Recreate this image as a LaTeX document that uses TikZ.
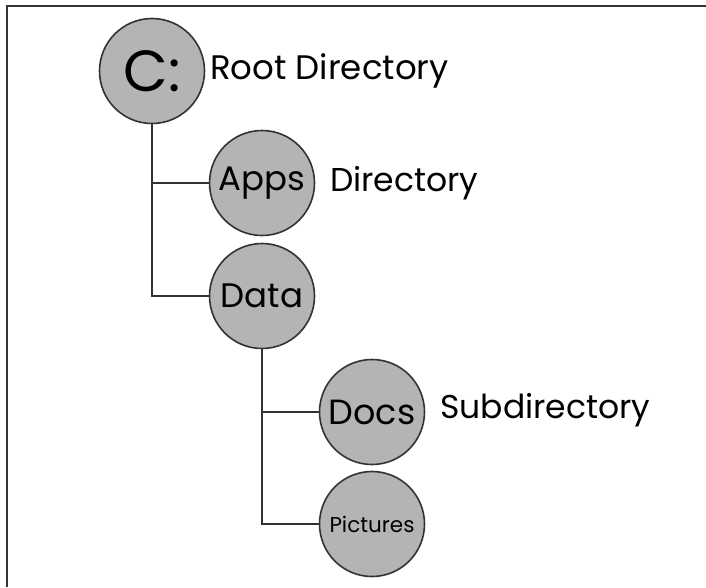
\documentclass[tikz,border=0pt]{standalone}
\usepackage{fontspec}
\setmainfont{Poppins}
\definecolor{linegray}{HTML}{333333}
\definecolor{circfill}{HTML}{B4B4B4}
\begin{document}
\begin{tikzpicture}[x=1pt,y=-1pt,
  dir/.style={circle,draw=linegray,line width=1.6pt,fill=circfill,minimum size=105pt,inner sep=0pt,text=black},
  lab/.style={anchor=west,inner sep=0pt,text=black,font=\fontsize{33}{33}\selectfont},
  conn/.style={draw=linegray,line width=2.4pt}]
\useasboundingbox (0,0) rectangle (706,587);
\draw[linegray,line width=2.4pt] (7,587) -- (7,6) -- (706,6);
\node[dir,font=\fontsize{58}{58}\selectfont] (c) at (152,71) {C:};
\node[dir,font=\fontsize{34}{34}\selectfont] (apps) at (262,183) {Apps};
\node[dir,font=\fontsize{34}{34}\selectfont] (data) at (262,296) {Data};
\node[dir,font=\fontsize{35}{35}\selectfont] (docs) at (372,412) {Docs};
\node[dir,font=\fontsize{21.5}{21.5}\selectfont] (pics) at (372,524) {Pictures};
\node[lab,font=\fontsize{34}{34}\selectfont] (lroot) at (210,71) {Root Directory};
\node[lab] (ldir) at (330,183) {Directory};
\node[lab] (lsub) at (440,410) {Subdirectory};
\draw[conn] (c.south) |- (apps.west);
\draw[conn] (c.south) |- (data.west);
\draw[conn] (data.south) |- (docs.west);
\draw[conn] (data.south) |- (pics.west);
\end{tikzpicture}
\end{document}
